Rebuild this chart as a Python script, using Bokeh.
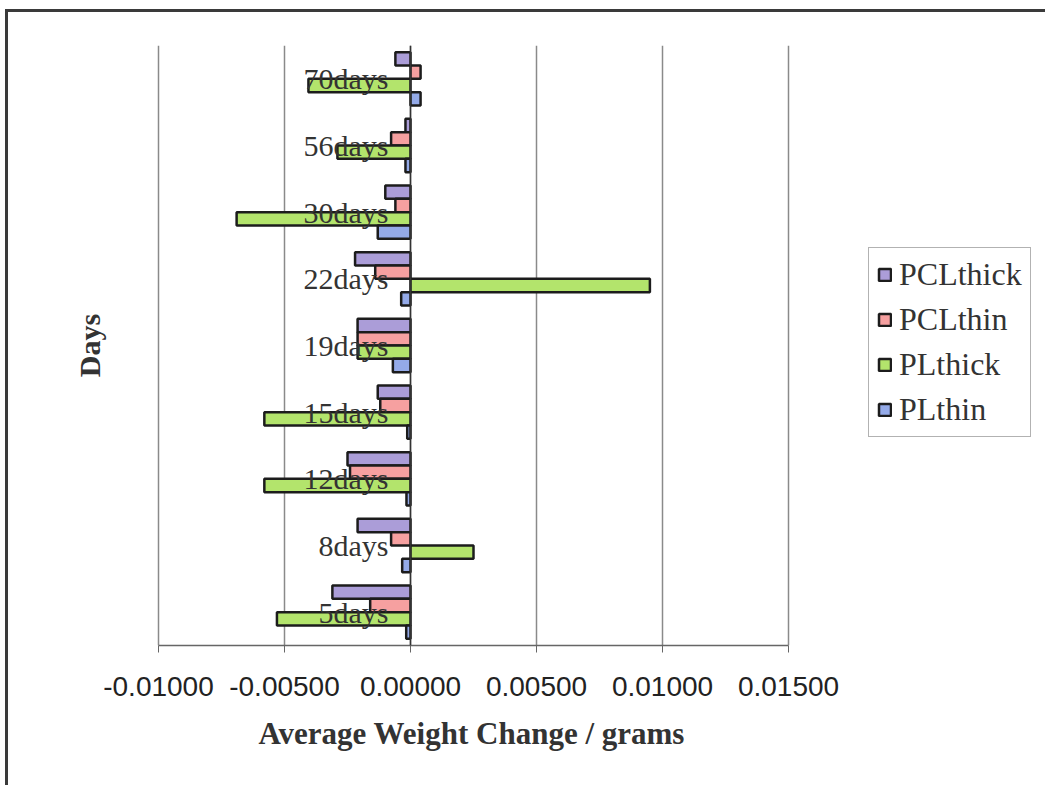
from bokeh.plotting import figure
from bokeh.models import (FactorRange, Range1d, LinearAxis, CategoricalAxis, Legend, Title,
                          LegendItem, FixedTicker, NumeralTickFormatter, ColumnDataSource)
from bokeh.transform import dodge
from bokeh.embed import file_html
from bokeh.resources import INLINE

days = ["5days", "8days", "12days", "15days", "19days", "22days", "30days", "56days", "70days"]
pcl_thick = [-0.0031, -0.0021, -0.0025, -0.0013, -0.0021, -0.0022, -0.0010, -0.0002, -0.0006]
pcl_thin = [-0.0016, -0.00077, -0.0024, -0.0012, -0.0021, -0.0014, -0.0006, -0.00077, 0.0004]
pl_thick = [-0.0053, 0.0025, -0.0058, -0.0058, -0.0021, 0.0095, -0.0069, -0.0029, -0.00405]
pl_thin = [-0.00017, -0.00033, -0.00016, -0.00013, -0.0007, -0.00037, -0.0013, -0.0002, 0.0004]
x_ticks = [-0.01, -0.005, 0.0, 0.005, 0.01, 0.015]

series = [
    ("PCLthick", "#ab9dd8", 0.3),
    ("PCLthin", "#f6a0a0", 0.1),
    ("PLthick", "#b3e46c", -0.1),
    ("PLthin", "#94aae8", -0.3),
]

src = ColumnDataSource(dict(day=days, PCLthick=pcl_thick, PCLthin=pcl_thin,
                            PLthick=pl_thick, PLthin=pl_thin))

px_per_unit = 25200.0
pad_px = 3
frame_w = 885 + pad_px
x_start = -0.01 - pad_px / px_per_unit
p = figure(width=1040, height=776, output_backend="svg", toolbar_location=None,
           y_range=FactorRange(*days),
           x_range=Range1d(x_start, x_start + frame_w / px_per_unit),
           x_axis_location=None, y_axis_location=None,
           min_border_left=150 - pad_px, min_border_right=5, min_border_top=33,
           min_border_bottom=143)
p.title.visible = False
p.outline_line_color = None
p.background_fill_color = "white"
p.border_fill_color = "white"
p.styles = {"border-left": "3px solid #3a3a3a", "border-top": "3px solid #3a3a3a",
            "margin-left": "5px", "margin-top": "9px"}

renderers = []
for name, color, off in series:
    r = p.hbar(y=dodge("day", off, range=p.y_range), left=0, right=name, height=0.2,
               source=src, fill_color=color, line_color="#1c1c1c", line_width=2.5)
    renderers.append((name, r))

xaxis = LinearAxis(ticker=FixedTicker(ticks=x_ticks),
                   formatter=NumeralTickFormatter(format="0.00000"),
                   bounds=(-0.01, 0.015))
xaxis.major_label_text_font = "Liberation Sans"
xaxis.major_label_text_font_size = "28px"
xaxis.major_label_text_color = "#222222"
xaxis.major_label_standoff = 24
xaxis.axis_line_color = "#666666"
xaxis.axis_line_width = 1.5
xaxis.major_tick_line_color = "#666666"
xaxis.major_tick_out = 7
xaxis.major_tick_in = 0
xaxis.minor_tick_line_color = None
p.add_layout(xaxis, "below")

xtitle = Title(text="Average Weight Change / grams", align="left", offset=100 + pad_px,
               text_font="Liberation Serif", text_font_style="bold",
               text_font_size="31px", text_color="#333333", standoff=31)
p.add_layout(xtitle, "below")

ytitle = Title(text="Days", align="center",
               text_font="Liberation Serif", text_font_style="bold",
               text_font_size="30px", text_color="#333333", standoff=100)
p.add_layout(ytitle, "left")

p.xgrid.ticker = FixedTicker(ticks=x_ticks)
p.xgrid.grid_line_color = "#8a8a8a"
p.xgrid.grid_line_width = 1.5
p.ygrid.grid_line_color = None

yaxis = CategoricalAxis(fixed_location=0)
yaxis.axis_line_color = "#333333"
yaxis.axis_line_width = 1.5
yaxis.major_tick_line_color = None
yaxis.major_label_text_font = "Liberation Serif"
yaxis.major_label_text_font_size = "30px"
yaxis.major_label_text_color = "#333333"
yaxis.major_label_standoff = 16
p.add_layout(yaxis, "left")

legend = Legend(items=[LegendItem(label=n, renderers=[r]) for n, r in renderers],
                location=(710 + pad_px, 208))
legend.border_line_color = "#666666"
legend.border_line_width = 1
legend.background_fill_color = "white"
legend.background_fill_alpha = 1
legend.label_text_font = "Liberation Serif"
legend.label_text_font_size = "32px"
legend.label_text_color = "#333333"
legend.glyph_width = 15
legend.glyph_height = 15
legend.label_height = 30
legend.spacing = 8
legend.padding = 8
legend.margin = 0
legend.label_standoff = 7
p.add_layout(legend)

open("out.html", "w").write(file_html(p, INLINE))
